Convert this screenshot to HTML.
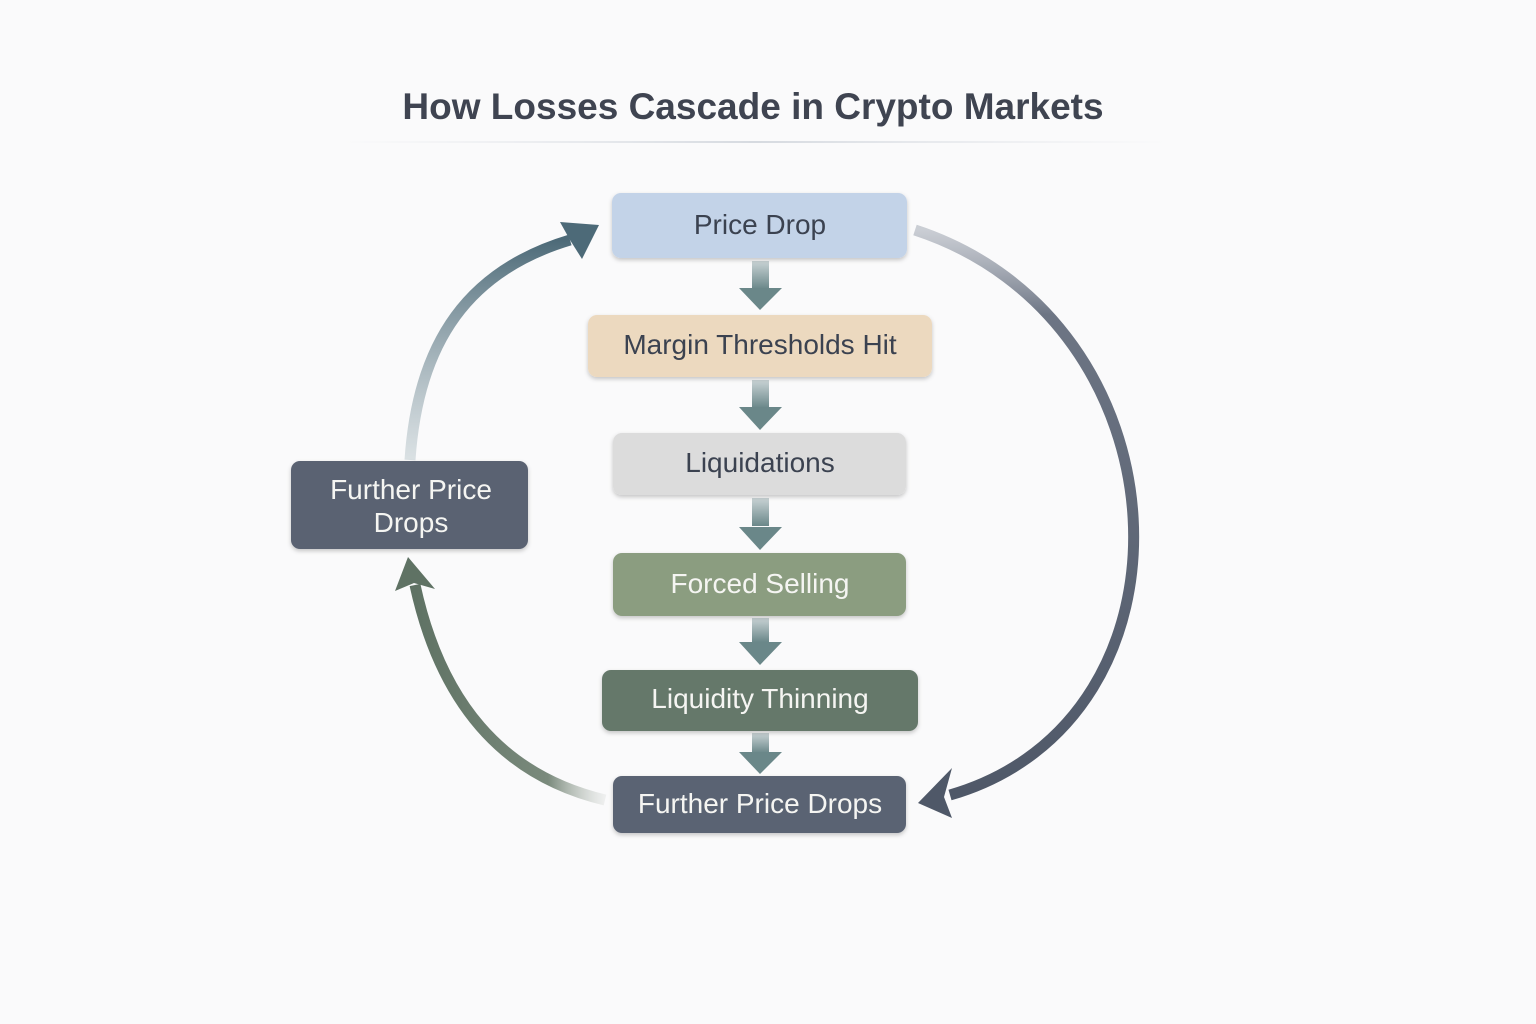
<!DOCTYPE html>
<html><head><meta charset="utf-8"><style>
html,body{margin:0;padding:0;background:#fafafb;}
svg{display:block;font-family:"Liberation Sans",sans-serif;}
</style></head><body>
<svg width="1536" height="1024" viewBox="0 0 1536 1024">
<defs>
<linearGradient id="hl" x1="0" y1="0" x2="1" y2="0"><stop offset="0" stop-color="#e0e3e8" stop-opacity="0"/><stop offset="0.5" stop-color="#d6dae0"/><stop offset="1" stop-color="#e0e3e8" stop-opacity="0"/></linearGradient>
<linearGradient id="rg" x1="0" y1="0" x2="0" y2="1"><stop offset="0" stop-color="#9aa1ad" stop-opacity="0.5"/><stop offset="0.15" stop-color="#6d7584"/><stop offset="1" stop-color="#4f5868"/></linearGradient>
<linearGradient id="lu" x1="0" y1="1" x2="0" y2="0"><stop offset="0" stop-color="#c5d0d4" stop-opacity="0.6"/><stop offset="1" stop-color="#4d6a78"/></linearGradient>
<linearGradient id="ll" x1="1" y1="0" x2="0" y2="0"><stop offset="0" stop-color="#c0c6c0" stop-opacity="0.2"/><stop offset="0.3" stop-color="#7a8a7c"/><stop offset="1" stop-color="#5f7264"/></linearGradient>
<linearGradient id="da" x1="0" y1="0" x2="0" y2="1"><stop offset="0" stop-color="#c9d3d5"/><stop offset="1" stop-color="#6a8789"/></linearGradient>
<filter id="sh" x="-10%" y="-20%" width="120%" height="150%"><feDropShadow dx="0" dy="2" stdDeviation="2" flood-opacity="0.22"/></filter>
</defs>
<text x="753" y="119" text-anchor="middle" font-size="37" font-weight="bold" fill="#3f4451">How Losses Cascade in Crypto Markets</text>
<rect x="340" y="141" width="830" height="2" fill="url(#hl)"/>

<path d="M915,230 C1190,320 1210,720 950,795" fill="none" stroke="url(#rg)" stroke-width="11"/>
<polygon points="918,803 952,768 944,797 952,818" fill="#4f5868"/>
<path d="M410,460 C418,340 470,270 570,240" fill="none" stroke="url(#lu)" stroke-width="11"/>
<polygon points="599,225 560,222 570,240 582,259" fill="#4d6a78"/>
<path d="M605,800 C500,775 440,700 415,585" fill="none" stroke="url(#ll)" stroke-width="11"/>
<polygon points="408,557 395,591 414,583 435,589" fill="#5f7264"/>

<g>
<rect x="752" y="261" width="17" height="28" fill="url(#da)"/><polygon points="739,288 782,288 760,310" fill="#6a8789"/>
<rect x="752" y="380" width="17" height="28" fill="url(#da)"/><polygon points="739,407 782,407 760,430" fill="#6a8789"/>
<rect x="752" y="498" width="17" height="28" fill="url(#da)"/><polygon points="739,527 782,527 760,550" fill="#6a8789"/>
<rect x="752" y="618" width="17" height="24" fill="url(#da)"/><polygon points="739,642 782,642 760,665" fill="#6a8789"/>
<rect x="752" y="733" width="17" height="20" fill="url(#da)"/><polygon points="739,752 782,752 760,774" fill="#6a8789"/>
</g>

<g filter="url(#sh)">
<rect x="612" y="193" width="295" height="65" rx="9" fill="#c3d3e8"/>
<rect x="588" y="315" width="344" height="62" rx="9" fill="#ecd9bf"/>
<rect x="613" y="433" width="293" height="62" rx="9" fill="#dcdcdc"/>
<rect x="613" y="553" width="293" height="63" rx="9" fill="#8b9d80"/>
<rect x="602" y="670" width="316" height="61" rx="9" fill="#65786a"/>
<rect x="613" y="776" width="293" height="57" rx="9" fill="#5a6373"/>
<rect x="291" y="461" width="237" height="88" rx="9" fill="#5a6272"/>
</g>
<g font-size="28" text-anchor="middle">
<text x="760" y="234" fill="#3b4250">Price Drop</text>
<text x="760" y="354" fill="#3b4250">Margin Thresholds Hit</text>
<text x="760" y="472" fill="#3b4250">Liquidations</text>
<text x="760" y="593" fill="#f5f5f2">Forced Selling</text>
<text x="760" y="708" fill="#f5f5f2">Liquidity Thinning</text>
<text x="760" y="813" fill="#f5f5f2">Further Price Drops</text>
<text x="411" y="499" fill="#f5f5f2">Further Price</text>
<text x="411" y="532" fill="#f5f5f2">Drops</text>
</g>
</svg>
</body></html>
